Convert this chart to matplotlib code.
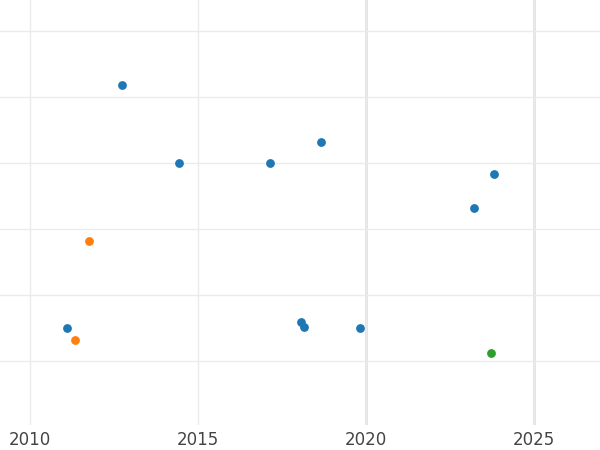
import matplotlib.pyplot as plt

# values
blue_x = [2012.74, 2014.43, 2017.14, 2018.66, 2023.81, 2023.21, 2011.10, 2018.07, 2018.15, 2019.82]
blue_y = [5.18, 4.0, 4.0, 4.32, 3.83, 3.32, 1.5, 1.59, 1.52, 1.5]
orange_x = [2011.76, 2011.34]
orange_y = [2.82, 1.32]
green_x = [2023.72]
green_y = [1.12]
year_ticks = [2010, 2015, 2020, 2025]

fig = plt.figure(figsize=(6, 4.5), dpi=100)
ax = fig.add_axes([0, 0.0556, 1, 0.9444])

ax.scatter(blue_x, blue_y, s=40, color='#1f77b4', zorder=3, linewidths=0)
ax.scatter(orange_x, orange_y, s=40, color='#ff7f0e', zorder=3, linewidths=0)
ax.scatter(green_x, green_y, s=40, color='#2ca02c', zorder=3, linewidths=0)

ax.set_xlim(2009.107, 2026.96)
ax.set_ylim(0.03, 6.47)
ax.set_xticks(year_ticks)
ax.set_yticks([1, 2, 3, 4, 5, 6])
ax.set_yticklabels([])
ax.grid(True, color='#ebebeb', linewidth=1)
for x in [2020, 2025]:
    ax.axvline(x, color='#e0e0e0', linewidth=2, zorder=1)
for s in ax.spines.values():
    s.set_visible(False)
ax.tick_params(length=0, labelsize=12, labelcolor='#444444', pad=4)

fig.savefig('out.png')
